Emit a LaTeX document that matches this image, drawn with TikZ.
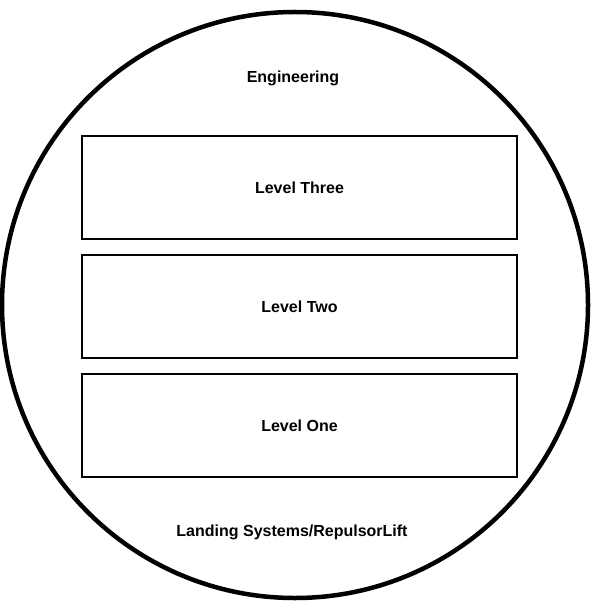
\documentclass[tikz,border=0pt]{standalone}
\usepackage{fontspec}
\setmainfont{Liberation Sans}
\usetikzlibrary{positioning}

\begin{document}
\begin{tikzpicture}[x=1pt, y=-1pt,
  lvl/.style={draw, line width=2pt, minimum width=435pt, minimum height=103pt, font=\bfseries\fontsize{16}{18}\selectfont},
  lbl/.style={font=\bfseries\fontsize{16}{18}\selectfont},
  node distance=14pt]
\useasboundingbox (0,0) rectangle (600,612);
% outer ring
\node[draw, circle, line width=4.5pt, minimum size=586pt, inner sep=0pt] (ring) at (295,305) {};
\node[lbl] (eng) at (293,78) {Engineering};
% levels
\node[lvl] (l3) at (299.5,187.5) {Level Three};
\node[lvl, below=of l3] (l2) {Level Two};
\node[lvl, below=of l2] (l1) {Level One};
\node[lbl] (land) at (292,532) {Landing Systems/RepulsorLift};
\end{tikzpicture}
\end{document}
